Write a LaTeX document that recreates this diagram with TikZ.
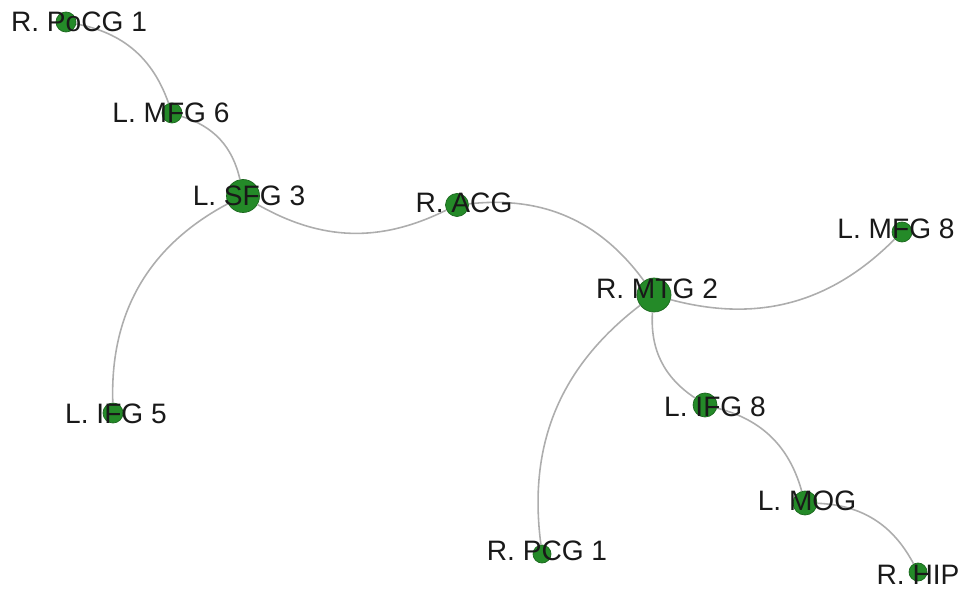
\documentclass[tikz,border=0pt]{standalone}
\usepackage{fontspec}
\setmainfont{Liberation Sans}
\usepackage{xcolor}
\usetikzlibrary{positioning}
\definecolor{nodegreen}{RGB}{36,138,40}

\begin{document}
\begin{tikzpicture}[x=0.02cm,y=-0.02cm]
    \tikzstyle{region}=[circle,fill=nodegreen,draw=nodegreen!75!black,line width=0.4pt,inner sep=0pt]
    \tikzstyle{link}=[draw=black!32,line width=0.9pt]
    \tikzstyle{annot}=[text=black!90,font=\fontsize{16}{19}\selectfont,inner sep=0pt]
    \useasboundingbox (0,0) rectangle (963,594);

    % Draw the region nodes
    \foreach \name / \x / \y / \d in {PoCG1/66/22/20, MFG6/172/113/20, SFG3/243/196/33, ACG/457/205/23, MTG2/654/295/34, MFG8/902/232/20, IFG5/113/413/20, IFG8/705/405/24, MOG/805/503/24, HIP/918/572/18, PCG1/542/554/18}
        \node[region, minimum size=\d*0.02cm] (R-\name) at (\x,\y) {};

    % Connect the regions (positive bend = left, negative = right)
    \foreach \source / \dest / \b in {PoCG1/MFG6/30, MFG6/SFG3/30, SFG3/IFG5/-32, SFG3/ACG/-28, ACG/MTG2/30, MTG2/MFG8/-30, MTG2/PCG1/-30, MTG2/IFG8/-30, IFG8/MOG/30, MOG/HIP/30}
        \draw[link] (R-\source) to[bend left=\b] (R-\dest);

    % Annotate the regions
    \foreach \name / \x / \y / \word in {PoCG1/79/22/R. PoCG 1, MFG6/171/113/L. MFG 6, SFG3/249/196/L. SFG 3, ACG/464/203/R. ACG, MTG2/657/289/R. MTG 2, MFG8/896/229/L. MFG 8, IFG5/116/414/L. IFG 5, IFG8/715/407/L. IFG 8, MOG/807/501/L. MOG, HIP/918/575/R. HIP, PCG1/547/551/R. PCG 1}
        \node[annot] (L-\name) at (\x,\y) {\word};

\end{tikzpicture}
\end{document}
